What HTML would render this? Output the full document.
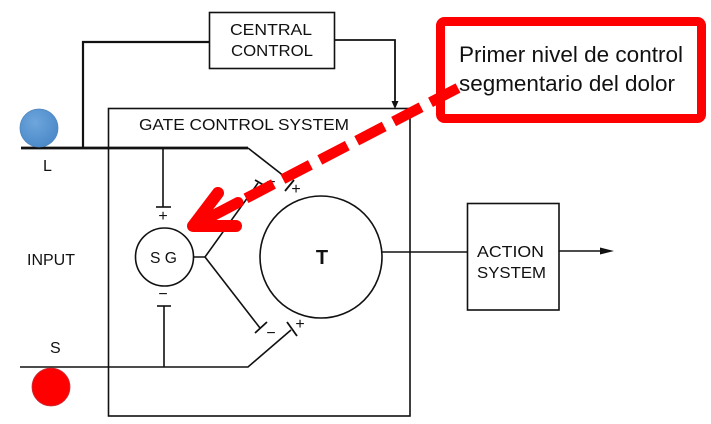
<!DOCTYPE html>
<html><head><meta charset="utf-8"><style>
html,body{margin:0;padding:0;background:#fff;width:711px;height:424px;overflow:hidden}
svg{display:block}
.t{font-family:"Liberation Sans",sans-serif;fill:#111}
</style></head><body>
<svg width="711" height="424" viewBox="0 0 711 424" xmlns="http://www.w3.org/2000/svg">
<defs>
<radialGradient id="bg" cx="0.4" cy="0.35" r="0.7">
<stop offset="0" stop-color="#6ea6dc"/><stop offset="1" stop-color="#4a88c8"/>
</radialGradient>
</defs>
<g stroke="#111" fill="none" stroke-width="1.6">
<rect x="209.5" y="12.5" width="125" height="56"/>
<polyline points="209,42 83,42 83,148" stroke-width="2.2"/>
<polyline points="335,40 395,40 395,102" stroke-width="1.8"/>
<rect x="108.5" y="108.5" width="301.5" height="307.5"/>
<polyline points="21,148 248,148" stroke-width="2.8"/>
<line x1="248" y1="148" x2="289" y2="180" stroke-width="1.6"/>
<line x1="285" y1="191" x2="294" y2="180" stroke-width="1.8"/>
<line x1="163" y1="148" x2="163" y2="207"/>
<line x1="156" y1="207" x2="171" y2="207"/>
<line x1="164" y1="306" x2="164" y2="367"/>
<line x1="157" y1="306" x2="171" y2="306"/>
<polyline points="20,367 248,367 291,330"/>
<line x1="287" y1="322" x2="297" y2="336" stroke-width="1.8"/>
<circle cx="164.5" cy="257" r="29"/>
<polyline points="193.5,257 205,257 258,183"/>
<line x1="205" y1="257" x2="260" y2="328"/>
<line x1="255" y1="180" x2="267" y2="187" stroke-width="1.8"/>
<line x1="255" y1="333" x2="267" y2="322" stroke-width="1.8"/>
<circle cx="321" cy="257" r="61"/>
<line x1="382" y1="252" x2="467" y2="252"/>
<rect x="467.5" y="203.5" width="91.5" height="106.5"/>
<line x1="559" y1="251" x2="602" y2="251"/>
</g>
<polygon points="600,247.5 614,251 600,254.5" fill="#111"/>
<polygon points="391.5,101 398.5,101 395,109" fill="#111"/>
<g class="t" font-size="16">
<text x="163" y="221" text-anchor="middle">+</text>
<text x="163" y="299" text-anchor="middle">−</text>
<text x="271" y="187" text-anchor="middle">−</text>
<text x="296" y="194" text-anchor="middle">+</text>
<text x="271" y="338" text-anchor="middle">−</text>
<text x="300" y="329" text-anchor="middle">+</text>
</g>
<g class="t" font-size="16">
<text x="230" y="35" textLength="82" lengthAdjust="spacingAndGlyphs">CENTRAL</text>
<text x="231" y="56" textLength="82" lengthAdjust="spacingAndGlyphs">CONTROL</text>
<text x="139" y="130" textLength="210" lengthAdjust="spacingAndGlyphs">GATE CONTROL SYSTEM</text>
<text x="27" y="265" textLength="48" lengthAdjust="spacingAndGlyphs">INPUT</text>
<text x="150" y="263" textLength="27" lengthAdjust="spacingAndGlyphs">S G</text>
<text x="477" y="257" textLength="67" lengthAdjust="spacingAndGlyphs">ACTION</text>
<text x="477" y="278" textLength="69" lengthAdjust="spacingAndGlyphs">SYSTEM</text>
<text x="43" y="171">L</text>
<text x="50" y="353">S</text>
</g>
<text class="t" x="322" y="264" font-size="20" text-anchor="middle" font-weight="bold">T</text>
<circle cx="39" cy="128" r="19" fill="url(#bg)" stroke="#4f86c0" stroke-width="0.8"/>
<circle cx="51" cy="387" r="19" fill="#ff0000" stroke="#c8303a" stroke-width="0.8"/>
<rect x="440.5" y="21.5" width="261" height="97" rx="4" fill="#fff" stroke="#ff0000" stroke-width="9"/>
<g font-family="'Liberation Sans',sans-serif" font-size="22.5" fill="#111">
<text x="459" y="62" textLength="224" lengthAdjust="spacingAndGlyphs">Primer nivel de control</text>
<text x="459" y="91" textLength="216" lengthAdjust="spacingAndGlyphs">segmentario del dolor</text>
</g>
<line x1="458" y1="88" x2="238" y2="202.5" stroke="#ff0000" stroke-width="10.5" stroke-dasharray="31 10.6"/>
<polyline points="238,202.5 195,225" fill="none" stroke="#ff0000" stroke-width="11" stroke-linecap="round"/>
<polyline points="218,193 193,226 236,226" fill="none" stroke="#ff0000" stroke-width="12" stroke-linecap="round" stroke-linejoin="round"/>
</svg>
</body></html>
